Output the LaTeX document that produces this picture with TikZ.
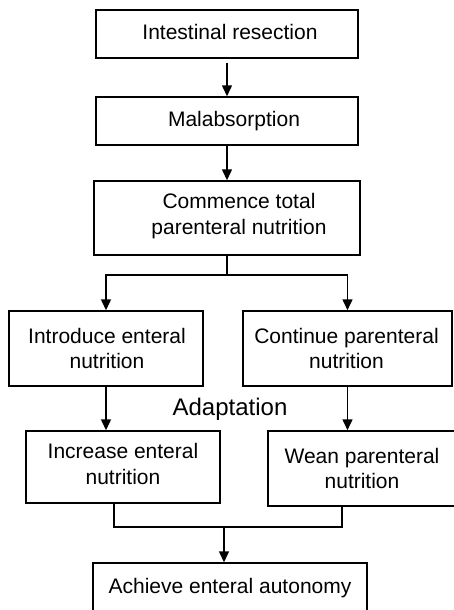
\documentclass[tikz,border=0pt]{standalone}
\usepackage{fontspec}
\setmainfont{Liberation Sans}
\usetikzlibrary{arrows.meta}
\begin{document}
\begin{tikzpicture}[x=1pt,y=-1pt,
  box/.style={draw=black, line width=1.5pt, inner sep=0pt, fill=white},
  label/.style={font=\fontsize{21}{25.5}\selectfont, align=center, inner sep=0pt},
  link/.style={line width=1.5pt},
  arr/.style={line width=1.5pt, -{Triangle[width=10pt,length=11pt]}}]
  \useasboundingbox (0,0) rectangle (453,610);

  % boxes
  \node[box, minimum width=262pt, minimum height=48pt] (b1) at (227,34) {};
  \node[label] at ([xshift=3pt,yshift=2pt]b1.center) {Intestinal resection};

  \node[box, minimum width=262pt, minimum height=48pt] (b2) at (227,121) {};
  \node[label] at ([xshift=7pt]b2.center) {Malabsorption};

  \node[box, minimum width=266pt, minimum height=74pt] (b3) at (227,218) {};
  \node[label] at ([xshift=12pt,yshift=2pt]b3.center) {Commence total\\parenteral nutrition};

  \node[box, minimum width=194pt, minimum height=75pt] (b4) at (106,348.5) {};
  \node[label] at ([xshift=1pt]b4.center) {Introduce enteral\\nutrition};

  \node[box, minimum width=209pt, minimum height=75pt] (b5) at (347.5,348.5) {};
  \node[label] at ([xshift=-1pt]b5.center) {Continue parenteral\\nutrition};

  \node[box, minimum width=194pt, minimum height=72pt] (b6) at (123,467) {};
  \node[label] at ([yshift=3pt]b6.center) {Increase enteral\\nutrition};

  \node[box, minimum width=188pt, minimum height=75pt] (b7) at (362,468.5) {};
  \node[label] at (b7.center) {Wean parenteral\\nutrition};

  \node[box, minimum width=274pt, minimum height=49pt] (b8) at (230,587.5) {};
  \node[label] at ([yshift=-1pt]b8.center) {Achieve enteral autonomy};

  \node[font=\fontsize{24}{28}\selectfont, inner sep=0pt] (adapt) at (230,409) {Adaptation};

  % connectors
  \draw[arr, shorten <=4pt] (b1.south) -- (b2.north);
  \draw[arr] (b2.south) -- (b2.south |- b3.north);

  \coordinate (split) at (227,275);
  \draw[link] (b3.south) -- (split);
  \draw[arr] (split) -| (b4.north);
  \draw[arr] (split) -| (b5.north);

  \draw[arr] (b4.south) -- (b4.south |- b6.north);
  \draw[arr] (b5.south) -- (b5.south |- b7.north);

  \coordinate (join) at (224,527);
  \draw[link] ([xshift=-9pt]b6.south) |- (join);
  \draw[link] ([xshift=-20pt]b7.south) |- (join);
  \draw[arr] (join) -- (join |- b8.north);
\end{tikzpicture}
\end{document}
